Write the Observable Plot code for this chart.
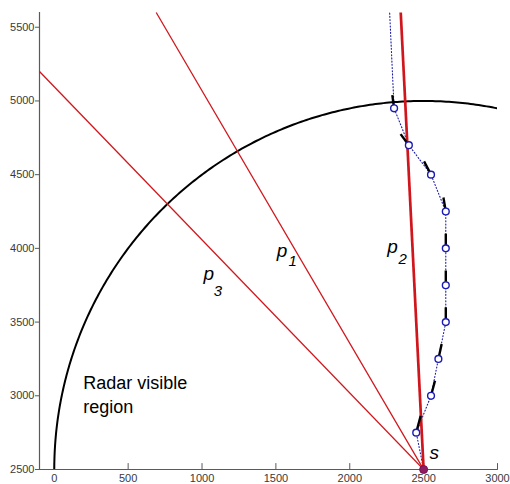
<!DOCTYPE html>
<html>
<head>
<meta charset="utf-8">
<script src="https://cdn.jsdelivr.net/npm/d3@7"></script>
<script src="https://cdn.jsdelivr.net/npm/@observablehq/plot@0.6"></script>
<style>
  body { margin: 0; background: #fff; }
</style>
</head>
<body>
<div id="chart"></div>
<script>
// Axis ticks
const xTicks = [0, 500, 1000, 1500, 2000, 2500, 3000];
const yTicks = [2500, 3000, 3500, 4000, 4500, 5000, 5500];

// Sensor position and radar coverage circle
const sensorX = 2500;
const sensorY = 2500;
const radarRadius = 2500;

// Bearing rays from the sensor (end points on the plot border)
const rayNames = ["p1", "p2", "p3"];
const rayEndX = [690, 2345, -100];
const rayEndY = [5600, 5600, 5200];

// Target track (dotted), from the sensor out through the top edge
const trackX = [2500, 2450, 2550, 2600, 2650, 2650, 2650, 2650, 2550, 2400, 2300, 2270];
const trackY = [2500, 2750, 3000, 3250, 3500, 3750, 4000, 4250, 4500, 4700, 4950, 5600];

// Measured target positions (circles) and heading indicator tips
const obsX = [2450, 2550, 2600, 2650, 2650, 2650, 2650, 2550, 2400, 2300];
const obsY = [2750, 3000, 3250, 3500, 3750, 4000, 4250, 4500, 4700, 4950];
const headX = [2480, 2577, 2622, 2650, 2650, 2650, 2634, 2503, 2344, 2288];
const headY = [2864, 3102, 3351, 3600, 3850, 4100, 4345, 4590, 4775, 5040];

// Tables for the marks
const rays = rayNames.map((name, i) => ({name, x: rayEndX[i], y: rayEndY[i]}));
const track = trackX.map((x, i) => ({x, y: trackY[i]}));
const obs = obsX.map((x, i) => ({x, y: obsY[i], hx: headX[i], hy: headY[i]}));

// Visible part of the radar circle: from the left (x = 0) round to x = 3000
const a0 = Math.PI;
const a1 = Math.acos((3000 - sensorX) / radarRadius);
const arc = d3.range(0, 241).map(k => {
  const a = a0 + (a1 - a0) * k / 240;
  return {x: sensorX + radarRadius * Math.cos(a), y: sensorY + radarRadius * Math.sin(a)};
});

// Short inward tick used on the x axis
const tickShape = {
  draw(context, l) { context.moveTo(0, 0); context.lineTo(0, -l); }
};

const red = "#d0161c";
const axisGray = "#5a5a5a";
const font = "'Liberation Sans', Arial, sans-serif";
const plain = d => String(d);

const chart = Plot.plot({
  width: 510,
  height: 484,
  marginLeft: 39,
  marginRight: 13,
  marginTop: 12,
  marginBottom: 15,
  x: {domain: [-100, 3000]},
  y: {domain: [2500, 5600]},
  style: {fontFamily: font, fontSize: "11px", background: "white", overflow: "visible"},
  marks: [
    Plot.axisY({ticks: yTicks, tickFormat: plain, tickSize: 4, tickPadding: 1, label: null, color: "#3a3a3a", stroke: axisGray}),
    Plot.axisX({ticks: xTicks, tickFormat: plain, tickSize: 0, tickPadding: 5, label: null, color: "#3a3a3a"}),
    Plot.vector(xTicks, {x: d => d, y: 2500, length: 6, rotate: 0, anchor: "start", shape: tickShape, stroke: axisGray, fill: "none", strokeWidth: 1}),
    Plot.ruleY([2500], {x1: -100, x2: 3000, stroke: axisGray, strokeWidth: 1.2}),
    Plot.ruleX([-100], {y1: 2500, y2: 5600, stroke: axisGray, strokeWidth: 1.2}),

    // radar visible region boundary
    Plot.line(arc, {x: "x", y: "y", stroke: "black", strokeWidth: 2, clip: true}),

    // target track
    Plot.line(track, {x: "x", y: "y", stroke: "#1c1ca8", strokeWidth: 1.1, strokeDasharray: "1,2.2", clip: true}),

    // bearing rays
    Plot.link(rays, {
      x1: sensorX, y1: sensorY, x2: "x", y2: "y",
      stroke: red,
      strokeWidth: d => d.name === "p2" ? 2.7 : 1.3,
      clip: true
    }),

    // heading indicators
    Plot.link(obs, {x1: "x", y1: "y", x2: "hx", y2: "hy", stroke: "black", strokeWidth: 2.4}),

    // measured positions
    Plot.dot(obs, {x: "x", y: "y", r: 3.4, stroke: "#1a1ab4", fill: "white", strokeWidth: 1.4}),

    // sensor
    Plot.dot([{x: sensorX, y: sensorY}], {x: "x", y: "y", r: 4, fill: "#8e1d63", stroke: "#7a1050", strokeWidth: 1}),

    // ray labels
    Plot.text([{x: 1010, y: 3787}, {x: 1506, y: 3942}, {x: 2253, y: 3969}], {
      x: "x", y: "y", text: () => "p", textAnchor: "start", lineAnchor: "bottom",
      fontSize: 19, fontStyle: "italic", fill: "black"
    }),
    Plot.text([{x: 1080, y: 3680, t: "3"}, {x: 1585, y: 3880, t: "1"}, {x: 2330, y: 3893, t: "2"}], {
      x: "x", y: "y", text: "t", textAnchor: "start", lineAnchor: "bottom",
      fontSize: 15, fontStyle: "italic", fill: "black"
    }),
    Plot.text([{x: 2539, y: 2572}], {
      x: "x", y: "y", text: () => "s", textAnchor: "start", lineAnchor: "bottom",
      fontSize: 19, fontStyle: "italic", fill: "black"
    }),
    Plot.text([{x: 196, y: 3047, t: "Radar visible"}, {x: 196, y: 2885, t: "region"}], {
      x: "x", y: "y", text: "t", textAnchor: "start", lineAnchor: "bottom",
      fontSize: 18, fill: "black"
    })
  ]
});

document.getElementById("chart").appendChild(chart);
</script>
</body>
</html>
